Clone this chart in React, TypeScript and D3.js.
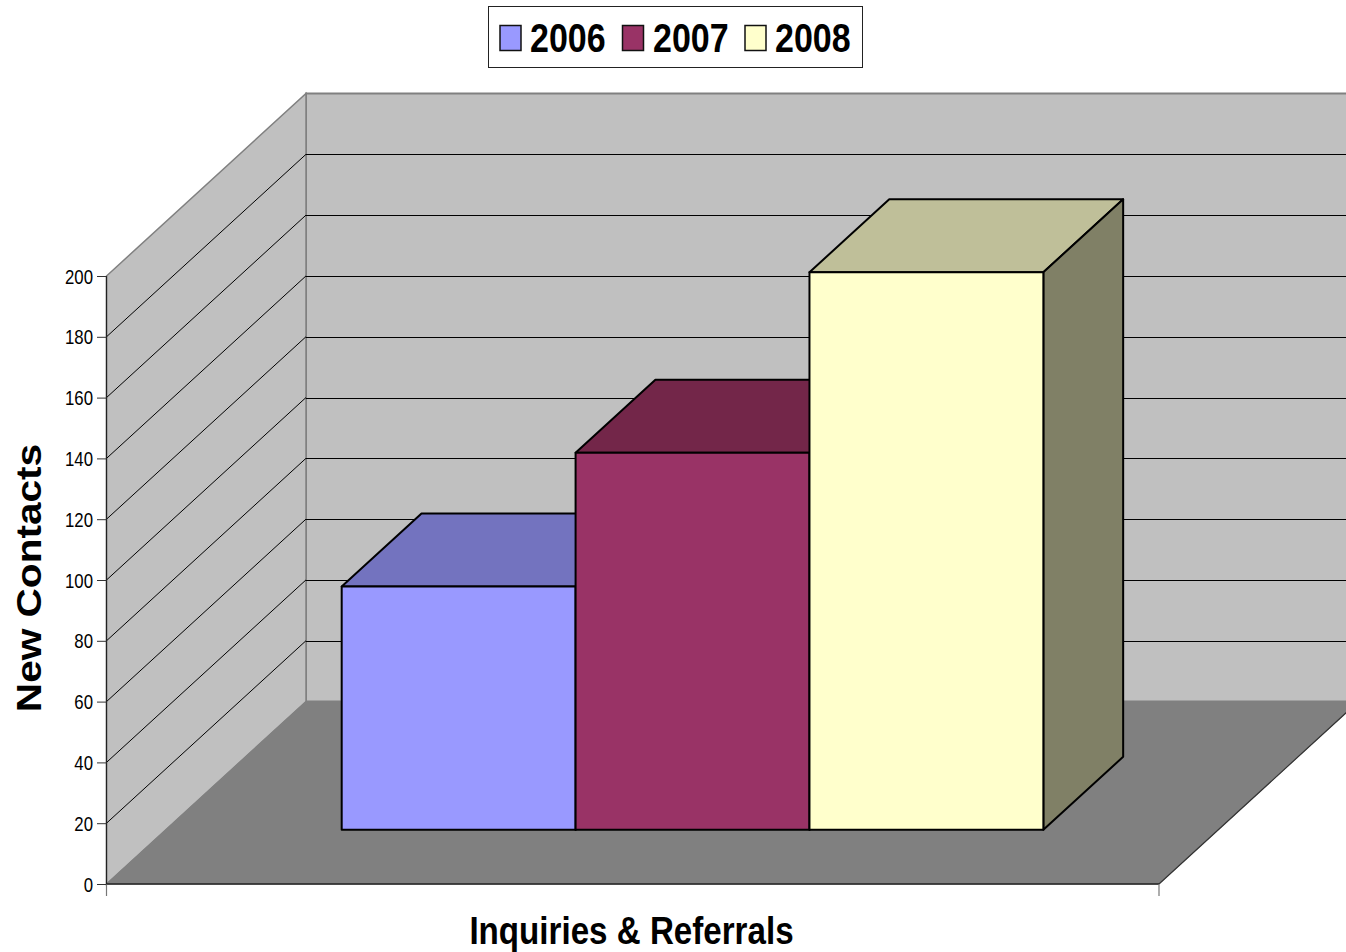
import * as d3 from "d3";
import React from "react";

const years = ["2006", "2007", "2008"];
const contacts = [80, 124, 183.4];
const barColors = ["#9999ff", "#993366", "#ffffcc"];
const topColors = ["#7373bf", "#732649", "#bfbf99"];
const sideColors = ["#7373bf", "#732649", "#808066"];
const yTicks = [0, 20, 40, 60, 80, 100, 120, 140, 160, 180, 200];
const legendSwatchX = [500, 622.5, 745];
const legendTextX = [530, 653, 775];

const WIDTH = 1346;
const HEIGHT = 952;
const FONT = "'Liberation Sans', Arial, sans-serif";

// front plane of the box
const y = d3.scaleLinear().domain([0, 200]).range([884, 276]);
const x = d3.scaleLinear().domain([0, 1]).range([106.5, 1159]);
const bars = d3.scaleBand<string>().domain(years).range([1 / 6 + 0.0005, 5 / 6 + 0.0005]);

// depth 0 is the front of the box, 1 the back wall
const DEPTH_X = 199.5;
const DEPTH_Y = -182.5;
const BAR_Z0 = 0.297;
const BAR_Z1 = 0.697;

const project = (u: number, v: number, z: number): [number, number] => [
  x(u) + z * DEPTH_X,
  y(v) + z * DEPTH_Y,
];
const line = d3.line();
const poly = (pts: [number, number][]) => line(pts) + "Z";

export default function App() {
  return (
    <svg
      width={WIDTH}
      height={HEIGHT}
      style={{ position: "absolute", left: 0, top: 0, background: "#fff" }}
      fontFamily={FONT}
    >
      {/* walls and floor */}
      <path
        d={poly([project(0, 200, 1), project(1.2, 200, 1), project(1.2, 0, 1), project(0, 0, 1)])}
        fill="#c0c0c0"
        stroke="#808080"
        strokeWidth={2}
      />
      <path
        d={poly([project(0, 0, 0), project(0, 200, 0), project(0, 200, 1), project(0, 0, 1)])}
        fill="#c0c0c0"
        stroke="#808080"
        strokeWidth={1.5}
      />
      <path
        d={poly([project(0, 0, 0), project(0, 0, 1), project(1, 0, 1), project(1, 0, 0)])}
        fill="#808080"
        stroke="#808080"
      />

      {/* gridlines */}
      {yTicks.slice(1, -1).map((t) => (
        <g key={t} fill="none" stroke="#000">
          <path d={line([project(0, t, 0), project(0, t, 1)]) ?? ""} strokeWidth={1} />
          <path
            d={line([project(0, t, 1), project(1.2, t, 1)]) ?? ""}
            strokeWidth={1}
            transform="translate(0,0.5)"
            shapeRendering="crispEdges"
          />
        </g>
      ))}
      <path d={line([project(1, 0, 0), project(1, 0, 1)]) ?? ""} stroke="#333" strokeWidth={1.2} fill="none" />

      {/* axes */}
      <line x1={x(0)} x2={x(0)} y1={y(200)} y2={y(0)} stroke="#222" strokeWidth={1.2} />
      <line x1={x(0)} x2={x(1)} y1={y(0)} y2={y(0)} stroke="#222" strokeWidth={1.5} />
      <line x1={x(0)} x2={x(0)} y1={y(0)} y2={y(0) + 12} stroke="#777" strokeWidth={1.2} />
      <line x1={x(1)} x2={x(1)} y1={y(0)} y2={y(0) + 12} stroke="#777" strokeWidth={1.2} />
      {yTicks.map((t) => (
        <g key={t}>
          <line x1={97} x2={x(0)} y1={y(t) + 0.5} y2={y(t) + 0.5} stroke="#333" strokeWidth={1} />
          <text
            transform={`translate(93,${y(t) + 7.5}) scale(0.84,1)`}
            textAnchor="end"
            fontSize={20}
            fill="#000"
          >
            {t}
          </text>
        </g>
      ))}

      {/* bars */}
      {years.map((year, i) => {
        const u0 = bars(year) ?? 0;
        const u1 = u0 + bars.bandwidth();
        const v = contacts[i];
        return (
          <g key={year} stroke="#000" strokeWidth={2} strokeLinejoin="round">
            <path
              d={poly([project(u0, v, BAR_Z0), project(u0, v, BAR_Z1), project(u1, v, BAR_Z1), project(u1, v, BAR_Z0)])}
              fill={topColors[i]}
            />
            <path
              d={poly([project(u1, 0, BAR_Z0), project(u1, v, BAR_Z0), project(u1, v, BAR_Z1), project(u1, 0, BAR_Z1)])}
              fill={sideColors[i]}
            />
            <path
              d={poly([project(u0, 0, BAR_Z0), project(u0, v, BAR_Z0), project(u1, v, BAR_Z0), project(u1, 0, BAR_Z0)])}
              fill={barColors[i]}
            />
          </g>
        );
      })}

      {/* legend */}
      <rect x={488.5} y={6.5} width={374} height={61} fill="#fff" stroke="#222" strokeWidth={1} />
      {years.map((year, i) => (
        <g key={year}>
          <rect
            x={legendSwatchX[i]}
            y={25.5}
            width={21}
            height={25}
            fill={barColors[i]}
            stroke="#111"
            strokeWidth={1.5}
          />
          <text
            transform={`translate(${legendTextX[i]},52) scale(0.85,1)`}
            fontSize={40}
            fontWeight="bold"
            fill="#000"
          >
            {year}
          </text>
        </g>
      ))}

      {/* axis titles */}
      <text
        transform="translate(631.5,943.5) scale(0.85,1)"
        textAnchor="middle"
        fontSize={39}
        fontWeight="bold"
        fill="#000"
      >
        Inquiries &amp; Referrals
      </text>
      <text
        transform="translate(40.5,578) rotate(-90) scale(1.16,1)"
        textAnchor="middle"
        fontSize={35}
        fontWeight="bold"
        fill="#000"
      >
        New Contacts
      </text>
    </svg>
  );
}
